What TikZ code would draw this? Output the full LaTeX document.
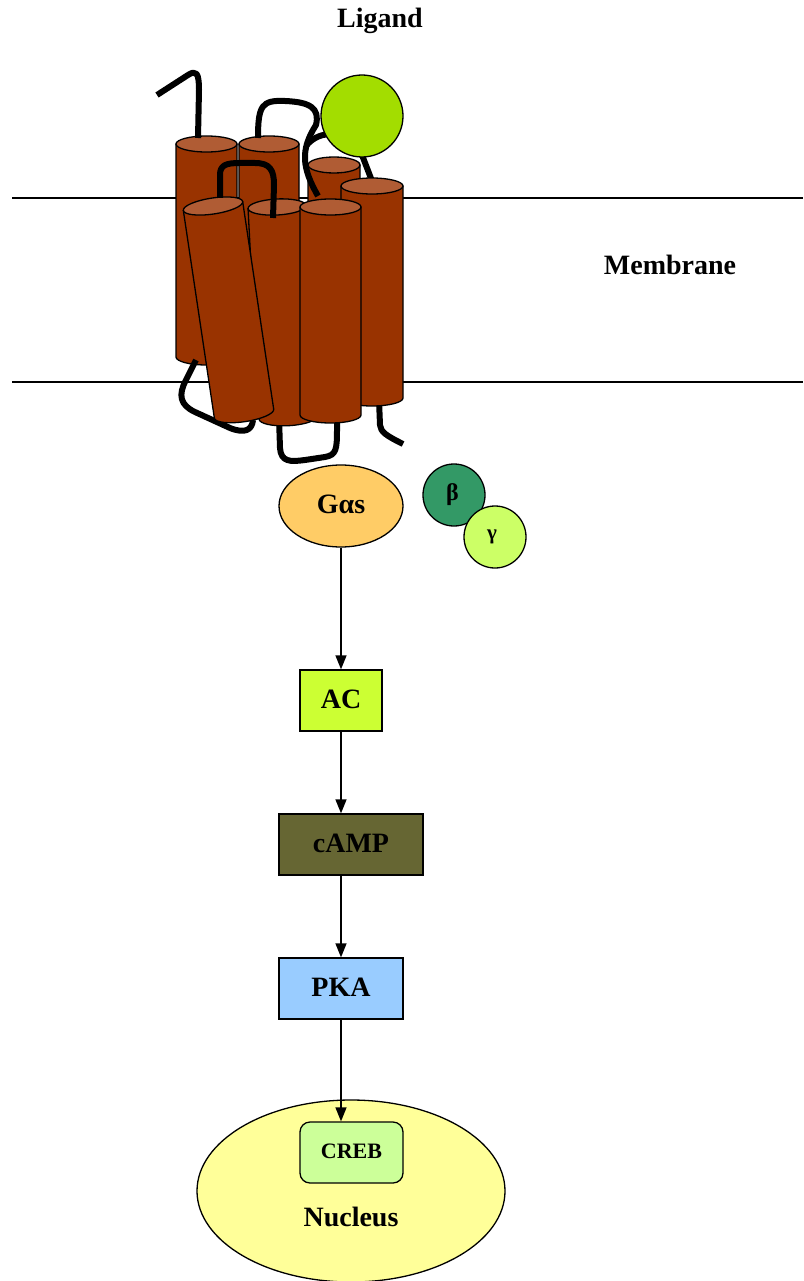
\documentclass[tikz,border=0pt]{standalone}
\usepackage{fontspec}
\setmainfont{Liberation Serif}
\usetikzlibrary{shapes.geometric,arrows.meta}
\definecolor{cylbodyc}{HTML}{993300}
\definecolor{cyltopc}{HTML}{B05C34}
\definecolor{ligandc}{HTML}{A3DD00}
\definecolor{gasc}{HTML}{FFCC66}
\definecolor{betac}{HTML}{339966}
\definecolor{gammac}{HTML}{CCFF66}
\definecolor{acc}{HTML}{CCFF33}
\definecolor{campc}{HTML}{666633}
\definecolor{pkac}{HTML}{99CCFF}
\definecolor{nucc}{HTML}{FFFF99}
\definecolor{crebc}{HTML}{CCFF99}
\tikzset{
  cylside/.style={fill=cylbodyc,draw=black,line width=1.3pt,line join=round},
  cyltop/.style={fill=cyltopc,draw=black,line width=1.3pt},
  loopline/.style={draw=black,line width=6pt,line cap=butt,line join=round},
  memline/.style={draw=black,line width=1.3pt},
  lbl/.style={font=\bfseries\fontsize{28}{30}\selectfont},
  boxnode/.style={draw=black,line width=1.3pt,inner sep=0pt,minimum height=61pt,lbl},
  arr/.style={draw=black,line width=1.4pt,-{Triangle[length=14pt,width=11pt]}},
}
\newcommand{\cylin}[5]{%
\begin{scope}[shift={(#1,#2)},rotate=#3]
\filldraw[cylside] (-#5,0) -- (-#5,#4) .. controls (-#5,#4+4.4) and (-0.552*#5,#4+8) .. (0,#4+8) .. controls (0.552*#5,#4+8) and (#5,#4+4.4) .. (#5,#4) -- (#5,0) -- cycle;
\filldraw[cyltop] (0,0) ellipse [x radius=#5, y radius=8];
\end{scope}}
\newcommand{\up}[1]{\raisebox{3pt}{#1}}
\begin{document}
\begin{tikzpicture}[x=1pt,y=-1pt]
\useasboundingbox (0,0) rectangle (803,1281);
% membrane lines
\coordinate (m1a) at (12,198); \coordinate (m1b) at (803,198);
\coordinate (m2a) at (12,382); \coordinate (m2b) at (803,382);
\draw[memline] (m1a) -- (m1b);
\draw[memline] (m2a) -- (m2b);
\node[lbl] (ligandlbl) at (380,21) {Ligand};
\node[lbl] (memlbl) at (670,265) {Membrane};
% back cylinders
\cylin{206.5}{144}{0}{213}{30.5}
\cylin{269}{144}{0}{213}{30}
\cylin{334}{165}{0}{200}{26}
% loops behind
\draw[loopline] (157,95) -- (188,75) .. controls (196,70) and (199,72) .. (199,90) -- (198,138);
\draw[loopline] (258,138) .. controls (258,105) and (262,100) .. (285,101) .. controls (310,102) and (320,108) .. (316,125) .. controls (300,150) and (302,168) .. (318,196);
\draw[loopline] (306,146) .. controls (320,128) and (350,130) .. (362,155) -- (372,181);
% ligand
\node[circle,draw=black,line width=1.3pt,fill=ligandc,minimum size=82pt,inner sep=0pt] (ligand) at (362,116) {};
\draw[loopline] (379,400) -- (380,425) .. controls (381,432) and (385,435) .. (403,444);
\cylin{372}{186}{0}{212}{31}
\draw[loopline] (196,360) -- (186,380) .. controls (178,395) and (180,405) .. (195,412) -- (230,428) .. controls (245,434) and (252,430) .. (253,420);
\draw[loopline] (279,418) -- (280,448) .. controls (281,462) and (290,462) .. (305,460) -- (325,457) .. controls (336,455) and (337,450) .. (337,430) -- (337,418);
% front cylinders
\cylin{277}{207}{3}{211}{29}
\cylin{213}{206}{8.5}{210}{30}
\cylin{330.5}{207}{0}{208}{30.5}
\draw[loopline] (220,198) -- (220,175) .. controls (220,165) and (226,163) .. (240,163) -- (255,163) .. controls (270,163) and (274,170) .. (274,185) -- (273,218);
% G protein
\node[ellipse,draw=black,line width=1.3pt,fill=gasc,minimum width=124pt,minimum height=82pt,inner sep=0pt,lbl] (gas) at (341,506) {\up{Gαs}};
\node[circle,draw=black,line width=1.3pt,fill=betac,minimum size=62pt,inner sep=0pt,font=\bfseries\fontsize{24}{26}\selectfont] (beta) at (454,495) {\hspace*{-3pt}β};
\node[circle,draw=black,line width=1.3pt,fill=gammac,minimum size=62pt,inner sep=0pt,font=\bfseries\fontsize{21}{24}\selectfont] (gamma) at (495,537) {\hspace*{-6pt}\raisebox{-4pt}{γ}};
% cascade
\node[boxnode,fill=acc,minimum width=82pt] (ac) at (341,700.5) {\up{AC}};
\node[boxnode,fill=campc,minimum width=144pt] (camp) at (351,844.5) {\up{cAMP}};
\node[boxnode,fill=pkac,minimum width=124pt] (pka) at (341,988.5) {\up{PKA}};
\node[ellipse,draw=black,line width=1.3pt,fill=nucc,minimum width=308pt,minimum height=182pt,inner sep=0pt] (nucleus) at (351,1191) {};
\node[boxnode,fill=crebc,minimum width=103pt,rounded corners=10pt,font=\bfseries\fontsize{22}{24}\selectfont] (creb) at (351.5,1152.5) {\up{CREB}};
\node[lbl] (nuclbl) at (351,1217) {Nucleus};
\draw[arr] (gas.south) -- (ac.north);
\draw[arr] (ac.south) -- (ac.south |- camp.north);
\draw[arr] (pka.north |- camp.south) -- (pka.north);
\draw[arr] (pka.south) -- (pka.south |- creb.north);
\end{tikzpicture}
\end{document}
